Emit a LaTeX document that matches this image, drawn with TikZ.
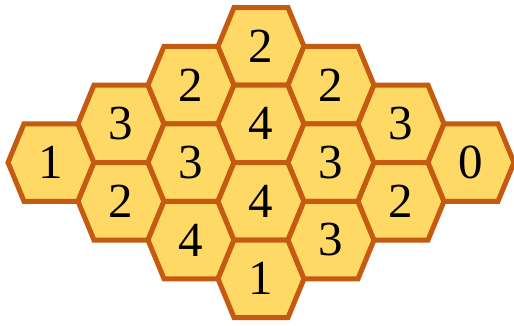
\documentclass[tikz,border=0pt]{standalone}
\usepackage{fontspec}
\newfontfamily\digitfont{Liberation Serif}
\definecolor{hexfill}{HTML}{FFD966}
\definecolor{hexline}{HTML}{C55A11}
\tikzset{
  hexbox/.style={fill=hexfill, draw=hexline, line width=5pt},
  digit/.style={inner sep=0pt, text=black}
}
\newcommand\hexcell[4]{%
  \draw[hexbox] (#2-43,#3) -- (#2-27,#3-38.75) -- (#2+27,#3-38.75) -- (#2+43,#3)
    -- (#2+27,#3+38.75) -- (#2-27,#3+38.75) -- cycle;
  \node[digit] (#1) at (#2,#3) {\digitfont\fontsize{49}{49}\selectfont #4};}
\begin{document}
\begin{tikzpicture}[x=1pt,y=-1pt]
\useasboundingbox (0,0) rectangle (514,325);
\hexcell{a1}{51}{162.5}{1}
\hexcell{b1}{121}{123.8}{3}
\hexcell{b2}{121}{201.3}{2}
\hexcell{c1}{191}{85}{2}
\hexcell{c2}{191}{162.5}{3}
\hexcell{c3}{191}{240}{4}
\hexcell{d1}{261}{46.3}{2}
\hexcell{d2}{261}{123.8}{4}
\hexcell{d3}{261}{201.3}{4}
\hexcell{d4}{261}{278.8}{1}
\hexcell{e1}{331}{85}{2}
\hexcell{e2}{331}{162.5}{3}
\hexcell{e3}{331}{240}{3}
\hexcell{f1}{401}{123.8}{3}
\hexcell{f2}{401}{201.3}{2}
\hexcell{g1}{471}{162.5}{0}
\end{tikzpicture}
\end{document}
